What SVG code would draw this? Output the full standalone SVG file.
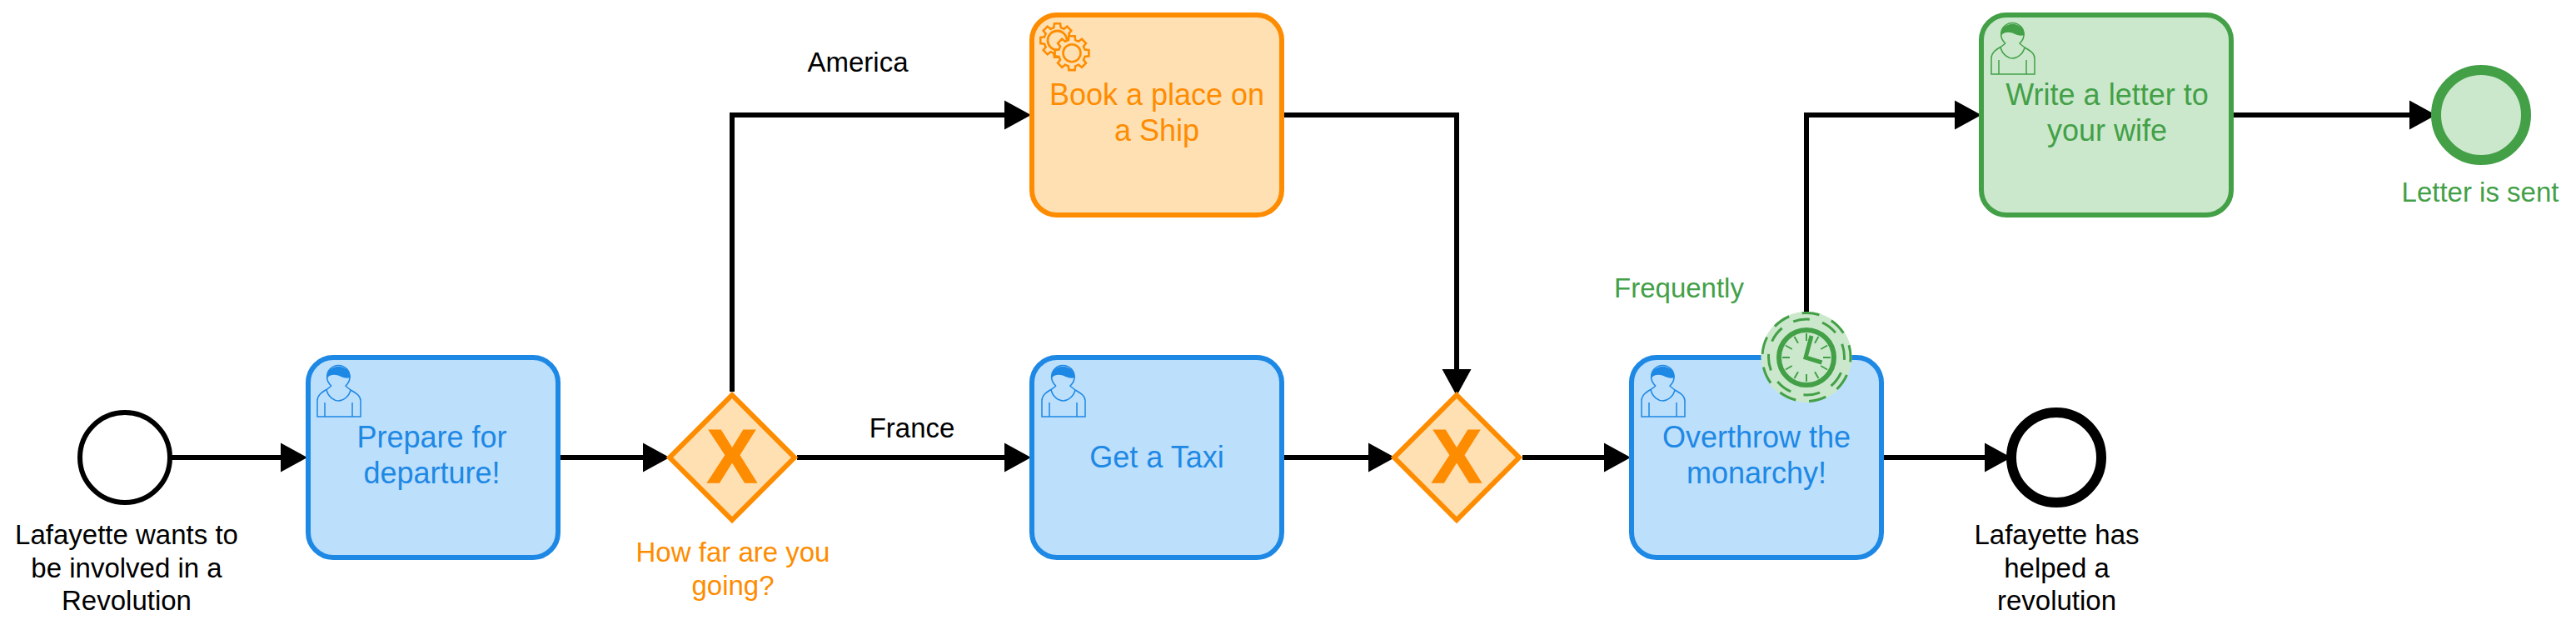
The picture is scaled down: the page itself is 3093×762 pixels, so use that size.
<svg xmlns="http://www.w3.org/2000/svg" xmlns:xlink="http://www.w3.org/1999/xlink" width="3093" height="762" viewBox="0 0 3093 762">
<style>
text{font-family:"Liberation Sans",Arial,sans-serif;text-anchor:middle}
.lbl{font-size:33px}
.tt{font-size:36px}
.blue{fill:#bcdffb;stroke:#1e88e5;color:#1e88e5}
.orange{fill:#ffe0b2;stroke:#fe8c00;color:#fe8c00}
.green{fill:#cbe8cc;stroke:#43a047;color:#43a047}
.task{stroke-width:6}
.tb{fill:#1e88e5;stroke:none}
.to{fill:#fe8c00;stroke:none}
.tg{fill:#43a047;stroke:none}
.tk{fill:#000;stroke:none}
.flow{fill:none;stroke:#000;stroke-width:6;marker-end:url(#arrow)}
.x{font-size:90px;font-weight:700;stroke:#fe8c00;stroke-width:1.5px}
.gw{stroke-width:6;stroke-linejoin:miter}
</style>
<defs>
<marker id="arrow" markerUnits="userSpaceOnUse" markerWidth="36" markerHeight="37" refX="20" refY="18" orient="auto"><path d="M0,0.5L32,18L0,35.5Z" fill="#000"/></marker>
<g id="user" fill="none" stroke="currentColor" stroke-width="1.5">
<path d="M17,24A13.7,13.7 0 1 1 33.7,24"/>
<path d="M17,24L11,28.5C5,32 0,35 0,42V61H52V42C52,36 47,33 40,29L33.7,24"/>
<path d="M11,28.5C13,38 21,42 25.5,42C31,42 38,37 40,29"/>
<path d="M9,44V61M42,44V61"/>
<path d="M11.8,13.5A13.7,13.7 0 0 1 39,13.5C34,15 30,13 26,11C20,9 15,10 11.8,13.5Z" fill="currentColor"/>
</g>
<polygon id="gear" points=".753,-.202 .985,-.174 .985,.174 .753,.202 .675,.39 .819,.574 .574,.819 .39,.675 .202,.753 .174,.985 -.174,.985 -.202,.753 -.39,.675 -.574,.819 -.819,.574 -.675,.39 -.753,.202 -.985,.174 -.985,-.174 -.753,-.202 -.675,-.39 -.819,-.574 -.574,-.819 -.39,-.675 -.202,-.753 -.174,-.985 .174,-.985 .202,-.753 .39,-.675 .574,-.819 .819,-.574 .675,-.39"/>
</defs>
<rect width="3093" height="762" fill="#fff"/>
<g id="connectors">
<path class="flow" d="M205,549H357"/>
<path class="flow" d="M673,549H792"/>
<path class="flow" d="M879,470V138H1226"/>
<path class="flow" d="M957,549H1226"/>
<path class="flow" d="M1542,549H1663"/>
<path class="flow" d="M1542,138H1749V463"/>
<path class="flow" d="M1828,549H1946"/>
<path class="flow" d="M2262,549H2403"/>
<path class="flow" d="M2169,380V138H2367"/>
<path class="flow" d="M2682,138H2913"/>
<text class="lbl tk" x="1030" y="86">America</text>
<text class="lbl tk" x="1095" y="525">France</text>
</g>
<g id="start">
<circle cx="150" cy="549" r="54" fill="#fff" stroke="#000" stroke-width="6"/>
<text class="lbl tk" x="152" y="653">Lafayette wants to</text>
<text class="lbl tk" x="152" y="692.500">be involved in a</text>
<text class="lbl tk" x="152" y="732">Revolution</text>
</g>
<g id="task-prepare">
<rect class="blue task" x="370" y="429" width="300" height="240" rx="30" ry="30"/>
<use href="#user" x="381" y="439" style="color:#1e88e5"/>
<text class="tt tb" x="518.500" y="537">Prepare for</text>
<text class="tt tb" x="518.500" y="580">departure!</text>
</g>
<g id="gateway-1">
<polygon class="orange gw" points="879,474 954,549 879,624 804,549"/>
<text class="x to" x="879" y="579">X</text>
<text class="lbl to" x="880" y="674">How far are you</text>
<text class="lbl to" x="880" y="714">going?</text>
</g>
<g id="task-book">
<rect class="orange task" x="1239" y="18" width="300" height="240" rx="30" ry="30"/>
<g class="orange">
<use href="#gear" transform="translate(1269.500,48.500) scale(20.500)" stroke-width=".125"/>
<circle cx="1269.500" cy="48.500" r="11.500" stroke-width="2.800"/>
<use href="#gear" transform="translate(1287,63.700) scale(20.700)" stroke-width=".125"/>
<circle cx="1287" cy="63.700" r="10.500" stroke-width="2.600"/>
</g>
<text class="tt to" x="1389" y="126">Book a place on</text>
<text class="tt to" x="1389" y="169">a Ship</text>
</g>
<g id="task-taxi">
<rect class="blue task" x="1239" y="429" width="300" height="240" rx="30" ry="30"/>
<use href="#user" x="1251" y="439" style="color:#1e88e5"/>
<text class="tt tb" x="1389" y="561">Get a Taxi</text>
</g>
<g id="gateway-2">
<polygon class="orange gw" points="1749,474 1824,549 1749,624 1674,549"/>
<text class="x to" x="1749" y="579">X</text>
</g>
<g id="task-overthrow">
<rect class="blue task" x="1959" y="429" width="300" height="240" rx="30" ry="30"/>
<use href="#user" x="1971" y="439" style="color:#1e88e5"/>
<text class="tt tb" x="2109" y="537">Overthrow the</text>
<text class="tt tb" x="2109" y="580">monarchy!</text>
</g>
<g id="timer">
<circle cx="2169" cy="428.500" r="54.500" fill="#cbe8cc"/>
<g fill="none" stroke="#43a047">
<circle cx="2169" cy="428.500" r="53" stroke-width="3" stroke-dasharray="21 16" stroke-dashoffset="-22"/>
<circle cx="2169" cy="428.500" r="45.500" stroke-width="3" stroke-dasharray="20 15.750" stroke-dashoffset="-19.200"/>
<circle cx="2169" cy="429" r="33" stroke-width="6"/>
<path stroke-width="2" d="M2169,400V409M2169,458V449M2140,429H2149M2198,429H2189M2183.500,403.900L2179,411.700M2154.500,454.100L2159,446.300M2194.100,443.500L2186.300,439M2143.900,414.500L2151.700,419M2183.500,454.100L2179,446.300M2154.500,403.900L2159,411.700M2194.100,414.500L2186.300,419M2143.900,443.500L2151.700,439"/>
<path stroke-width="5" d="M2175,403L2168,429L2187.500,435"/>
</g>
<text class="lbl tg" x="2016" y="357">Frequently</text>
</g>
<g id="end-1">
<circle cx="2469" cy="549" r="54" fill="#fff" stroke="#000" stroke-width="12"/>
<text class="lbl tk" x="2469.500" y="653">Lafayette has</text>
<text class="lbl tk" x="2469.500" y="692.500">helped a</text>
<text class="lbl tk" x="2469.500" y="732">revolution</text>
</g>
<g id="task-write">
<rect class="green task" x="2379" y="18" width="300" height="240" rx="30" ry="30"/>
<use href="#user" x="2391" y="28" style="color:#43a047"/>
<text class="tt tg" x="2530" y="126">Write a letter to</text>
<text class="tt tg" x="2530" y="168.500">your wife</text>
</g>
<g id="end-2">
<circle cx="2979" cy="138" r="54" fill="#cbe8cc" stroke="#43a047" stroke-width="12"/>
<text class="lbl tg" x="2978" y="242">Letter is sent</text>
</g>
</svg>
